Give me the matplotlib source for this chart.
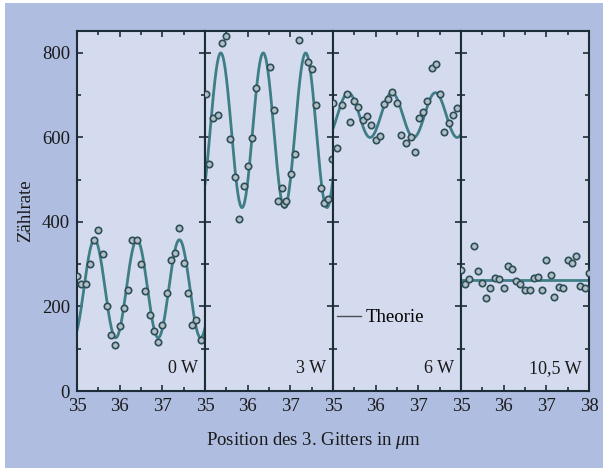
import numpy as np
import matplotlib.pyplot as plt
from matplotlib.lines import Line2D
from matplotlib.patches import Rectangle
from matplotlib.ticker import MultipleLocator

plt.rcParams['font.family'] = ['Liberation Serif', 'DejaVu Serif']
plt.rcParams['mathtext.fontset'] = 'custom'
plt.rcParams['mathtext.rm'] = 'Liberation Serif'
plt.rcParams['mathtext.it'] = 'Liberation Serif:italic'

# Laser power for each panel
panel_labels = ['0 W', '3 W', '6 W', '10,5 W']

# Measured count rates (position in um, counts)
pos_0w = [35.0, 35.1, 35.2, 35.3, 35.4, 35.5, 35.6, 35.7, 35.8, 35.9,
          36.0, 36.1, 36.2, 36.3, 36.4, 36.5, 36.6, 36.7, 36.8, 36.9,
          37.0, 37.1, 37.2, 37.3, 37.4, 37.5, 37.6, 37.7, 37.8, 37.9]
rate_0w = [272, 254, 254, 300, 358, 382, 325, 202, 133, 109,
           155, 197, 240, 358, 358, 300, 236, 179, 141, 115,
           156, 231, 309, 327, 386, 303, 231, 156, 168, 121]

pos_3w = [35.02, 35.09, 35.19, 35.30, 35.39, 35.49, 35.59, 35.70, 35.79, 35.91,
          36.00, 36.11, 36.20, 36.52, 36.61, 36.71, 36.81, 36.85, 36.91, 37.01,
          37.10, 37.20, 37.41, 37.51, 37.61, 37.71, 37.80, 37.88, 37.97]
rate_3w = [702, 538, 645, 654, 823, 840, 596, 506, 406, 485,
           533, 599, 718, 767, 665, 450, 480, 443, 450, 514,
           560, 831, 778, 761, 677, 480, 446, 454, 548]

pos_6w = [35.0, 35.09, 35.21, 35.33, 35.40, 35.50, 35.59, 35.70, 35.79, 35.90,
          36.00, 36.11, 36.20, 36.30, 36.39, 36.51, 36.60, 36.71, 36.82, 36.92,
          37.01, 37.11, 37.21, 37.31, 37.41, 37.51, 37.60, 37.72, 37.82, 37.91]
rate_6w = [681, 576, 677, 702, 637, 686, 673, 641, 650, 629,
           594, 604, 679, 690, 708, 682, 605, 587, 600, 566,
           645, 661, 686, 765, 775, 704, 613, 635, 652, 669]

pos_10w = [35.0, 35.09, 35.19, 35.30, 35.40, 35.49, 35.59, 35.69, 35.80, 35.90,
           36.00, 36.10, 36.20, 36.29, 36.39, 36.49, 36.61, 36.70, 36.80, 36.90,
           37.00, 37.10, 37.19, 37.29, 37.40, 37.50, 37.59, 37.69, 37.80, 37.90, 37.99]
rate_10w = [287, 254, 264, 343, 283, 255, 220, 244, 268, 266,
            243, 297, 288, 260, 254, 240, 240, 268, 269, 238,
            311, 275, 222, 247, 244, 309, 303, 319, 248, 243, 279]

positions = [pos_0w, pos_3w, pos_6w, pos_10w]
rates = [rate_0w, rate_3w, rate_6w, rate_10w]

# Theory curve: mean + amplitude * cos(2 pi (x - peak) / period)
theo_mean = [242, 617, 653, 263]
theo_amp = [116, 183, 53, 0]
theo_period = [0.995, 0.995, 1.02, 1.0]
theo_peak = [35.41, 35.37, 35.36, 35.0]

x_ticks = [35, 36, 37, 38]

line_col = '#3f7e86'
edge_col = '#2c4f57'
spine_col = '#1c2d38'
text_col = '#1a1a1a'

fig, axes = plt.subplots(1, 4, sharey=True, figsize=(6.03, 4.68), dpi=100)
fig.patch.set_facecolor('white')
fig.patches.append(Rectangle((5 / 603, 0), 1, 1 - 3 / 468, transform=fig.transFigure,
                             facecolor='#aebde0', edgecolor='none', zorder=-10))
fig.subplots_adjust(left=0.1277, right=0.9768, bottom=0.1645, top=0.9338, wspace=0)

for i, ax in enumerate(axes):
    ax.set_facecolor('#d4dbee')
    xs = np.linspace(35, 38, 400)
    theo = theo_mean[i] + theo_amp[i] * np.cos(2 * np.pi * (xs - theo_peak[i]) / theo_period[i])
    ax.plot(xs, theo, color=line_col, lw=2.0, zorder=2)
    ax.plot(positions[i], rates[i], 'o', ms=4.6, mfc='#b3bec6', mec=edge_col, mew=1.2, zorder=3)

    ax.set_xlim(35, 38)
    ax.set_ylim(0, 852)
    ax.set_xticks(x_ticks)
    if i < 3:
        ax.set_xticklabels(['35', '36', '37', ''])
    else:
        ax.set_xticklabels(['35', '36', '37', '38'])
    ax.xaxis.set_minor_locator(MultipleLocator(0.5))
    ax.yaxis.set_major_locator(MultipleLocator(200))
    ax.yaxis.set_minor_locator(MultipleLocator(100))
    ax.tick_params(which='both', direction='in', top=True, right=True,
                   color=spine_col, width=1.2, labelsize=13.5, labelcolor=text_col)
    ax.tick_params(which='major', length=4.5, pad=5)
    ax.tick_params(which='minor', length=3)
    for sp in ax.spines.values():
        sp.set_color(spine_col)
        sp.set_linewidth(1.5)

    ax.text(0.945, 0.04, panel_labels[i], transform=ax.transAxes,
            ha='right', va='bottom', fontsize=13, color=text_col)

axes[0].set_ylabel('Zählrate', fontsize=13.5, color=text_col, labelpad=6)

theorie = Line2D([], [], color='#4a4f55', lw=1.0)
axes[2].legend([theorie], ['Theorie'], loc='center left', bbox_to_anchor=(0.0, 0.203),
               frameon=False, fontsize=13.5, handlelength=1.3, handletextpad=0.25,
               borderpad=0, borderaxespad=0.2)

fig.text(313.5 / 603, 1 - 445 / 468, r'Position des 3. Gitters in $\mu$m',
         ha='center', va='baseline', fontsize=13.5, color=text_col)

fig.savefig('out.png', dpi=100)
